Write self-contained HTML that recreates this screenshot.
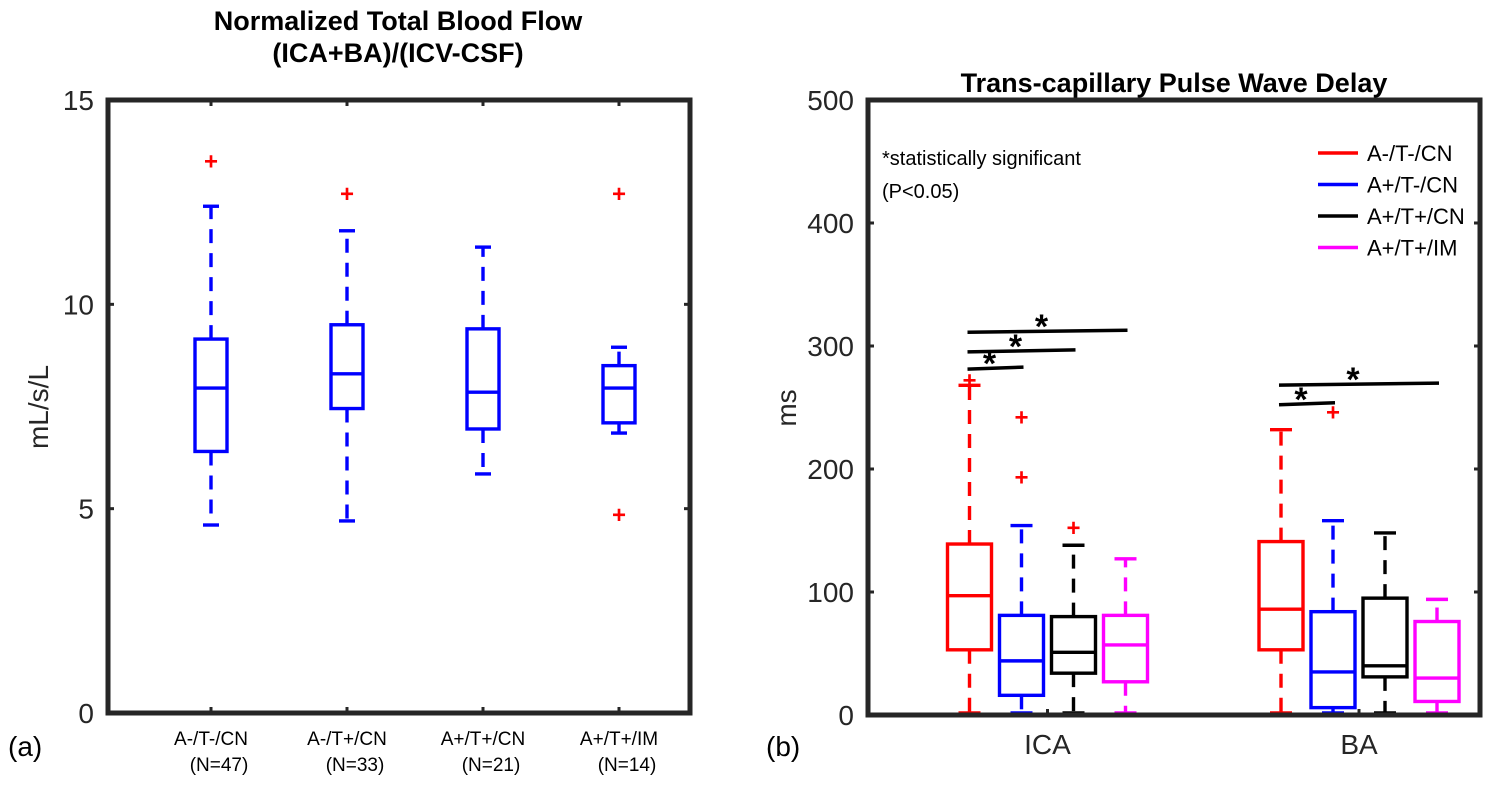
<!DOCTYPE html>
<html><head><meta charset="utf-8"><style>
body{margin:0;background:#fff;}
svg{display:block;font-family:"Liberation Sans",Arial,sans-serif;}
</style></head><body>
<svg id="chart" width="1504" height="786" viewBox="0 0 1504 786"></svg>
<script>
// ---------- Panel A data ----------
const catsA = ["A-/T-/CN","A-/T+/CN","A+/T+/CN","A+/T+/IM"];
const nA = ["(N=47)","(N=33)","(N=21)","(N=14)"];
const lowA = [4.6, 4.7, 5.85, 6.85];
const q1A = [6.4, 7.45, 6.95, 7.1];
const medA = [7.95, 8.3, 7.85, 7.95];
const q3A = [9.15, 9.5, 9.4, 8.5];
const highA = [12.4, 11.8, 11.4, 8.95];
const outA = [[13.5],[12.7],[],[12.7,4.85]];
const ticksA = [0,5,10,15];
// ---------- Panel B data ----------
const groupsB = ["ICA","BA"];
const seriesB = ["A-/T-/CN","A+/T-/CN","A+/T+/CN","A+/T+/IM"];
const colorsB = ["#ff0000","#0000ff","#000000","#ff00ff"];
const lowB = [[0,0,0,0],[0,0,0,0]];
const q1B = [[53,16,34,27],[53,6,31,11]];
const medB = [[97,44,51,57],[86,35,40,30]];
const q3B = [[139,81,80,81],[141,84,95,76]];
const highB = [[268,154,138,127],[232,158,148,94]];
const outB = [[[272],[242,193],[152],[]],[[],[246],[],[]]];
const ticksB = [0,100,200,300,400,500];
// [group, fromSeries, toSeries, value(ms)]
const sigB = [[0,0,1,282],[0,0,2,296],[0,0,3,312],[1,0,1,253],[1,0,3,269]];

const svg=document.getElementById('chart');
const NS="http://www.w3.org/2000/svg";
function el(tag,attrs,parent){const e=document.createElementNS(NS,tag);for(const k in attrs)e.setAttribute(k,attrs[k]);(parent||svg).appendChild(e);return e;}
function txt(s,attrs,parent){const t=el('text',attrs,parent);t.textContent=s;return t;}

// ---- Panel A ----
const A={x0:108,x1:690,y0:100,y1:713};
const xA=i=>211+i*136;
const yA=v=>A.y1-(v/15)*(A.y1-A.y0);
const gA=el('g',{});


catsA.forEach((c,i)=>{
  const g=el('g',{},gA);
  
  
  const x=xA(i),w=16,cl="#0000ff",sw=3.4;
  el('line',{x1:x,x2:x,y1:yA(q3A[i]),y2:yA(highA[i]),stroke:cl,'stroke-width':sw,'stroke-dasharray':'14 10'},g);
  el('line',{x1:x,x2:x,y1:yA(q1A[i]),y2:yA(lowA[i]),stroke:cl,'stroke-width':sw,'stroke-dasharray':'14 10'},g);
  el('line',{x1:x-8,x2:x+8,y1:yA(highA[i]),y2:yA(highA[i]),stroke:cl,'stroke-width':sw},g);
  el('line',{x1:x-8,x2:x+8,y1:yA(lowA[i]),y2:yA(lowA[i]),stroke:cl,'stroke-width':sw},g);
  el('rect',{x:x-w,y:yA(q3A[i]),width:2*w,height:yA(q1A[i])-yA(q3A[i]),fill:'none',stroke:cl,'stroke-width':sw},g);
  el('line',{x1:x-w,x2:x+w,y1:yA(medA[i]),y2:yA(medA[i]),stroke:cl,'stroke-width':sw},g);
  outA[i].forEach(v=>{const p=txt('+',{x:x,y:yA(v)+8,'text-anchor':'middle','font-size':24,'font-weight':'bold',fill:'#ff0000'},g);
    });
  const l=txt(c,{x:x,y:745,'text-anchor':'middle','font-size':19},gA);
  
  const n=txt(nA[i],{x:x+8,y:771,'text-anchor':'middle','font-size':19},gA);
  
  el('line',{x1:x,x2:x,y1:A.y1,y2:A.y1-6,stroke:'#262626','stroke-width':3},gA);
  el('line',{x1:x,x2:x,y1:A.y0,y2:A.y0+6,stroke:'#262626','stroke-width':3},gA);
});
ticksA.forEach(t=>{
  el('line',{x1:A.x0,x2:A.x0+6,y1:yA(t),y2:yA(t),stroke:'#262626','stroke-width':3},gA);
  el('line',{x1:A.x1,x2:A.x1-6,y1:yA(t),y2:yA(t),stroke:'#262626','stroke-width':3},gA);
  const l=txt(String(t),{x:A.x0-14,y:yA(t)+10,'text-anchor':'end','font-size':28,fill:'#262626'},gA);
  
});
const frA=el('rect',{x:A.x0,y:A.y0,width:A.x1-A.x0,height:A.y1-A.y0,fill:'none',stroke:'#262626','stroke-width':5},gA);

let t1=txt('Normalized Total Blood Flow',{x:398,y:30,'text-anchor':'middle','font-size':27,'font-weight':'bold'},gA);

let t2=txt('(ICA+BA)/(ICV-CSF)',{x:398,y:62,'text-anchor':'middle','font-size':27,'font-weight':'bold'},gA);

let ya=txt('mL/s/L',{x:0,y:0,'text-anchor':'middle','font-size':28,fill:'#262626',transform:'translate(48,407) rotate(-90)'},gA);

let la=txt('(a)',{x:8,y:756,'font-size':28},gA);


// ---- Panel B ----
const B={x0:868,x1:1480,y0:100,y1:715};
const xB=(g,s)=>[969.5,1281][g]+s*52;
const yB=v=>B.y1-(v/500)*(B.y1-B.y0);
const gB=el('g',{});


groupsB.forEach((gn,g)=>{
  seriesB.forEach((s,i)=>{
    const gg=el('g',{},gB);
    
    
    const x=xB(g,i),w=22,cl=colorsB[i],sw=3.4;
    el('line',{x1:x,x2:x,y1:yB(q3B[g][i]),y2:yB(highB[g][i]),stroke:cl,'stroke-width':sw,'stroke-dasharray':'14 10'},gg);
    el('line',{x1:x,x2:x,y1:yB(q1B[g][i]),y2:yB(lowB[g][i]),stroke:cl,'stroke-width':sw,'stroke-dasharray':'14 10'},gg);
    el('line',{x1:x-11,x2:x+11,y1:yB(highB[g][i]),y2:yB(highB[g][i]),stroke:cl,'stroke-width':sw},gg);
    el('line',{x1:x-11,x2:x+11,y1:yB(lowB[g][i])-2,y2:yB(lowB[g][i])-2,stroke:cl,'stroke-width':sw},gg);
    el('rect',{x:x-w,y:yB(q3B[g][i]),width:2*w,height:yB(q1B[g][i])-yB(q3B[g][i]),fill:'none',stroke:cl,'stroke-width':sw},gg);
    el('line',{x1:x-w,x2:x+w,y1:yB(medB[g][i]),y2:yB(medB[g][i]),stroke:cl,'stroke-width':sw},gg);
    outB[g][i].forEach(v=>{const p=txt('+',{x:x,y:yB(v)+8,'text-anchor':'middle','font-size':24,'font-weight':'bold',fill:'#ff0000'},gg);
      });
  });
  const cx=(xB(g,0)+xB(g,3))/2;
  const l=txt(gn,{x:cx,y:754,'text-anchor':'middle','font-size':28,fill:'#262626'},gB);
  
  el('line',{x1:cx,x2:cx,y1:B.y1,y2:B.y1-6,stroke:'#262626','stroke-width':3},gB);
});
sigB.forEach(s=>{
  const [g,a,b,v]=s;
  const x1=xB(g,a)-2,x2=xB(g,b)+2,y=yB(v);
  const ln=el('line',{x1:x1,x2:x2,y1:y+1,y2:y-1,stroke:'#000','stroke-width':3.5},gB);
  
  const st=txt('*',{x:(x1+x2)/2-6,y:y+7,'text-anchor':'middle','font-size':34,'font-weight':'bold'},gB);
  
});
ticksB.forEach(t=>{
  el('line',{x1:B.x0,x2:B.x0+6,y1:yB(t),y2:yB(t),stroke:'#262626','stroke-width':3},gB);
  el('line',{x1:B.x1,x2:B.x1-6,y1:yB(t),y2:yB(t),stroke:'#262626','stroke-width':3},gB);
  const l=txt(String(t),{x:B.x0-14,y:yB(t)+10,'text-anchor':'end','font-size':28,fill:'#262626'},gB);
  
});
const frB=el('rect',{x:B.x0,y:B.y0,width:B.x1-B.x0,height:B.y1-B.y0,fill:'none',stroke:'#262626','stroke-width':5},gB);

let t3=txt('Trans-capillary Pulse Wave Delay',{x:1174,y:92,'text-anchor':'middle','font-size':27,'font-weight':'bold'},gB);

let yb=txt('ms',{x:0,y:0,'text-anchor':'middle','font-size':28,fill:'#262626',transform:'translate(796,408) rotate(-90)'},gB);

let lb=txt('(b)',{x:766,y:756,'font-size':28},gB);

let n1=txt('*statistically significant',{x:882,y:165,'font-size':20},gB);

let n2=txt('(P<0.05)',{x:882,y:198,'font-size':20},gB);

seriesB.forEach((s,i)=>{
  const y=153+i*31.5;
  const lg=el('g',{},gB);
  
  
  el('line',{x1:1318,x2:1358,y1:y,y2:y,stroke:colorsB[i],'stroke-width':3.5},lg);
  txt(s,{x:1367,y:y+8,'font-size':22},lg);
});
</script>
</body></html>
